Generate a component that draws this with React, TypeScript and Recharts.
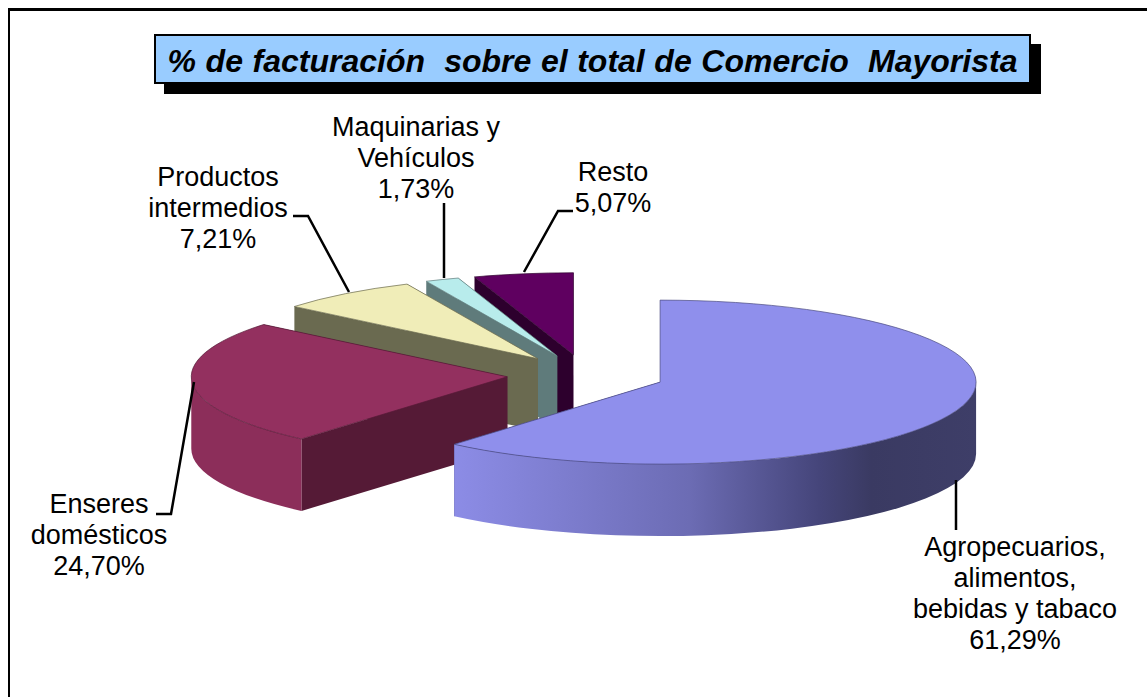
import React from 'react';
import { PieChart, Pie } from 'recharts';

const categories = ['Resto', 'Maquinarias y Vehículos', 'Productos intermedios', 'Enseres domésticos', 'Agropecuarios, alimentos, bebidas y tabaco'];
const shares = [5.07, 1.73, 7.21, 24.7, 61.29];
const labelLines = [['Resto'], ['Maquinarias y', 'Vehículos'], ['Productos', 'intermedios'], ['Enseres', 'domésticos'], ['Agropecuarios,', 'alimentos,', 'bebidas y tabaco']];

const topColors = ['#5f0060', '#b8ecec', '#f0edb8', '#93305f', '#8f8fec'];
const wallColors = ['#2d002d', '#5f7b7b', '#6a6a50', '#551a36', '#4a4a80'];
const sideColors = ['#2d002d', '#5f7b7b', '#6a6a50', '#8c2e5a', 'url(#agroSide)'];

// label anchor (text centre + first baseline) and leader polyline, in page px
const labelLayout = [
  { x: 613, y: 181, leader: '573,211 558,211 524,272' },
  { x: 416, y: 136, leader: '444,203 444,278' },
  { x: 218, y: 186, leader: '293,216 308,216 349,292' },
  { x: 99, y: 513, leader: '156,514 171,514 194,382' },
  { x: 1015, y: 556, leader: '956,480 956,530' },
];

const tableData = categories.map((name, i) => ({ name, value: shares[i] }));

const TILT = 82 / 316; // ellipse ry / rx
const DEPTH = 72;
const EXPLODE = 0.25;
const RAD = Math.PI / 180;

const Slice3D = (props: any) => {
  const { cx, cy, outerRadius, startAngle, endAngle, midAngle, name } = props;
  const i = categories.indexOf(name);
  const rx = outerRadius;
  const ry = outerRadius * TILT;
  // every slice moves out along its own bisector
  const ox = cx + EXPLODE * rx * Math.cos(midAngle * RAD);
  const oy = cy - EXPLODE * ry * Math.sin(midAngle * RAD);
  const px = (a: number) => ox + rx * Math.cos(a * RAD);
  const py = (a: number) => oy - ry * Math.sin(a * RAD);
  const wall = (a: number) =>
    `M${ox},${oy} L${px(a)},${py(a)} L${px(a)},${py(a) + DEPTH} L${ox},${oy + DEPTH} Z`;

  // the outer rim only shows on the front half of the ellipse
  const from = Math.max(startAngle, 180);
  const to = Math.min(endAngle, 360);
  const rim =
    to > from
      ? `M${px(from)},${py(from)} A${rx},${ry} 0 ${to - from > 180 ? 1 : 0} 0 ${px(to)},${py(to)} ` +
        `L${px(to)},${py(to) + DEPTH} A${rx},${ry} 0 ${to - from > 180 ? 1 : 0} 1 ${px(from)},${py(from) + DEPTH} Z`
      : null;
  const top =
    `M${ox},${oy} L${px(startAngle)},${py(startAngle)} ` +
    `A${rx},${ry} 0 ${endAngle - startAngle > 180 ? 1 : 0} 0 ${px(endAngle)},${py(endAngle)} Z`;

  return (
    <g>
      <defs>
        <linearGradient id="agroSide" x1="0" y1="0" x2="1" y2="0">
          <stop offset="0%" stopColor="#8c8ce6" />
          <stop offset="45%" stopColor="#6c6cb4" />
          <stop offset="70%" stopColor="#45457a" />
          <stop offset="80%" stopColor="#3a3a62" />
          <stop offset="100%" stopColor="#3e3e68" />
        </linearGradient>
      </defs>
      <path d={wall(startAngle)} fill={wallColors[i]} />
      <path d={wall(endAngle)} fill={wallColors[i]} />
      {rim && <path d={rim} fill={sideColors[i]} />}
      <path d={top} fill={topColors[i]} stroke={wallColors[i]} strokeOpacity={0.7} strokeWidth={1} />
    </g>
  );
};

const SliceLabel = (props: any) => {
  const i = categories.indexOf(props.name);
  const layout = labelLayout[i];
  const lines = [...labelLines[i], shares[i].toFixed(2).replace('.', ',') + '%'];
  return (
    <g>
      <polyline points={layout.leader} fill="none" stroke="#000" strokeWidth={2.5} />
      <text textAnchor="middle" fontFamily="Liberation Sans, Arial, sans-serif" fontSize={27} fill="#000">
        {lines.map((line, k) => (
          <tspan key={k} x={layout.x} y={layout.y + k * 31}>{line}</tspan>
        ))}
      </text>
    </g>
  );
};

export default function App() {
  return (
    <div style={{ position: 'absolute', left: 0, top: 0, width: 1147, height: 697, background: '#fff', overflow: 'hidden' }}>
      <div style={{ position: 'absolute', left: 8, top: 8, width: 1139, height: 689, borderLeft: '2px solid #000', borderTop: '3px solid #000' }} />
      <PieChart width={1147} height={697} style={{ position: 'absolute', left: 0, top: 0 }}>
        <Pie
          data={tableData}
          dataKey="value"
          nameKey="name"
          cx={581}
          cy={370}
          innerRadius={0}
          outerRadius={316}
          startAngle={90}
          endAngle={450}
          stroke="none"
          shape={(p: any) => <Slice3D {...p} />}
          label={(p: any) => <SliceLabel {...p} />}
          labelLine={false}
          isAnimationActive={false}
        />
      </PieChart>
      <div
        style={{
          position: 'absolute', left: 154, top: 34, width: 873, height: 46,
          background: '#99ccff', border: '2px solid #000', boxShadow: '10px 10px 0 #000',
          fontFamily: 'Liberation Sans, Arial, sans-serif', fontWeight: 'bold', fontStyle: 'italic',
          fontSize: 32, wordSpacing: 0.7, lineHeight: '50px', textAlign: 'center', whiteSpace: 'pre', color: '#000',
        }}
      >
        % de facturación  sobre el total de Comercio  Mayorista
      </div>
    </div>
  );
}
